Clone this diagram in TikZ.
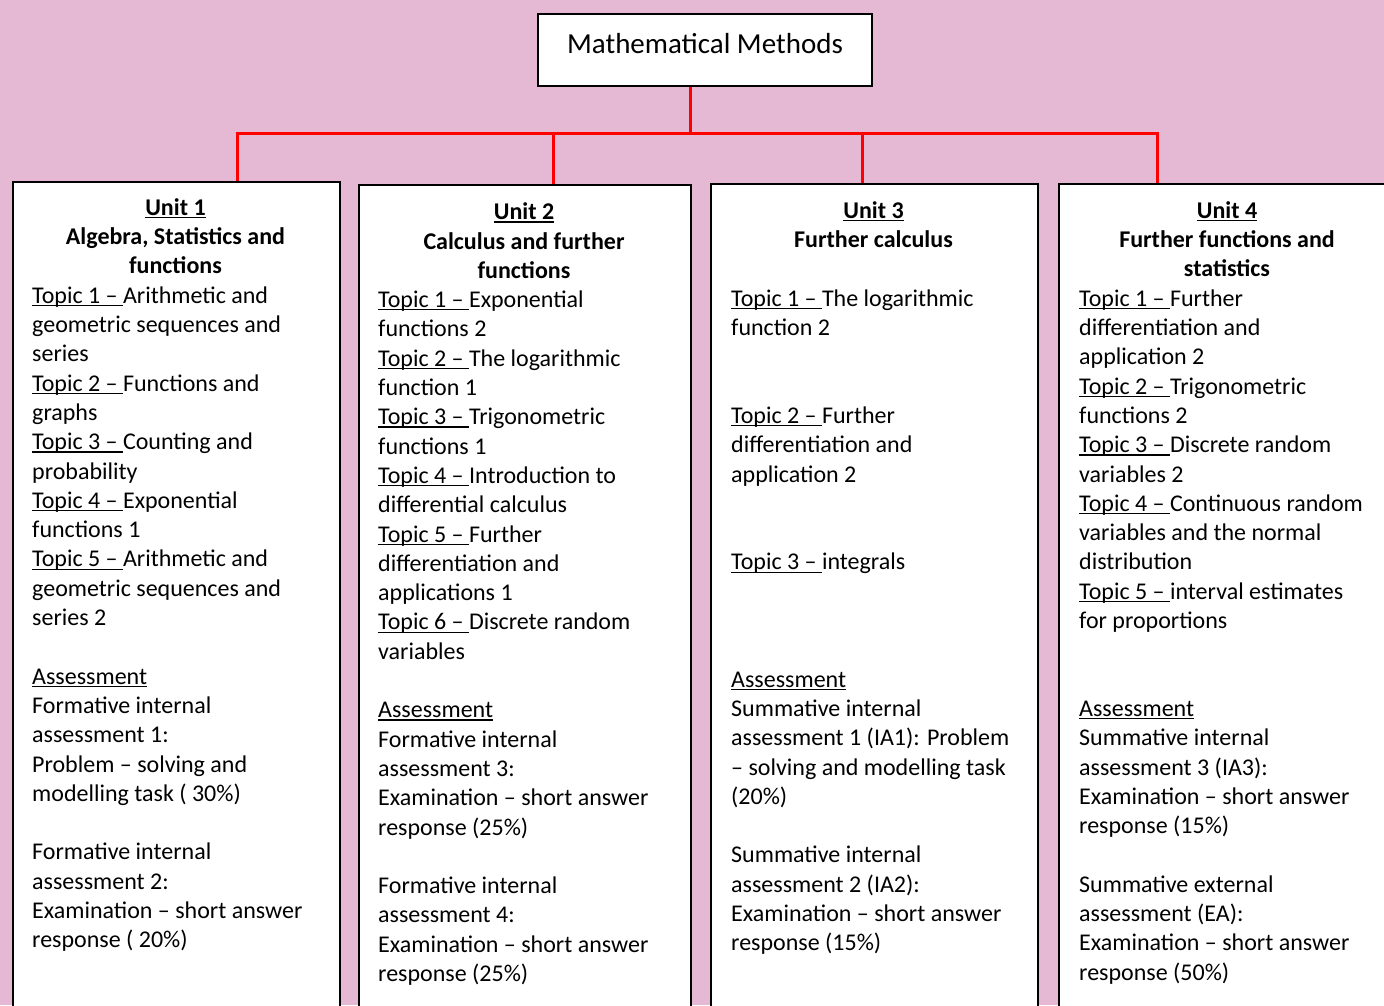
\documentclass[tikz,border=0pt]{standalone}
\usepackage{fontspec}
\setmainfont{Carlito}
\definecolor{bgpink}{RGB}{229,184,212}
\definecolor{conred}{RGB}{255,0,0}
\newlength\ulw
\newcommand\uln[1]{\settowidth\ulw{#1}\rlap{\rule[-2.8pt]{\ulw}{1.2pt}}#1}
\newcommand\bodyfont{\fontsize{24pt}{29.3pt}\selectfont}
\newcommand\st{\rule{0pt}{22pt}}
\begin{document}
\begin{tikzpicture}[x=1pt,y=-1pt]
\tikzset{
  ubox/.style={draw=black, line width=2pt, fill=white, inner sep=0pt, anchor=north west},
  hdr/.style={anchor=north, inner sep=0pt, align=center, font=\bodyfont\bfseries},
  bodytext/.style={anchor=north west, inner sep=0pt, align=left, font=\bodyfont},
  titlebox/.style={draw=black, line width=2pt, fill=white, minimum width=334pt, minimum height=72pt, inner sep=0pt, text height=20pt, text depth=14pt, font=\fontsize{29pt}{35pt}\selectfont},
  redline/.style={draw=conred, line width=3pt}
}
\useasboundingbox (0,0) rectangle (1384,1005);
\clip (0,0) rectangle (1384,1005);
\fill[bgpink] (0,0) rectangle (1384,1005);

% title
\node[titlebox] (title) at (705,50) {Mathematical Methods};

% unit boxes
\node[ubox, minimum width=327pt, minimum height=850pt] (u1) at (12,181) {};
\node[ubox, minimum width=332pt, minimum height=850pt] (u2) at (358,184) {};
\node[ubox, minimum width=327pt, minimum height=850pt] (u3) at (710,183) {};
\node[ubox, minimum width=350pt, minimum height=850pt] (u4) at (1058,183) {};

% connectors
\coordinate (bus) at (690,133);
\coordinate (d1) at (237,181);
\coordinate (d2) at (553,184);
\coordinate (d3) at (862,183);
\coordinate (d4) at (1157,183);
\draw[redline] (bus |- title.south) -- (bus);
\draw[redline] (d1) |- (bus) -| (d4);
\draw[redline] (d2) -- (d2 |- bus);
\draw[redline] (d3) -- (d3 |- bus);

% Unit 1
\node[hdr] (h1) at (175.5,193) {\st\uln{Unit 1}\\Algebra, Statistics and\\functions};
\node[bodytext] (b1) at (32,281) {\st\uln{Topic 1 – }Arithmetic and\\
geometric sequences and\\
series\\
\uln{Topic 2 – }Functions and\\
graphs\\
\uln{Topic 3 – }Counting and\\
probability\\
\uln{Topic 4 – }Exponential\\
functions 1\\
\uln{Topic 5 – }Arithmetic and\\
geometric sequences and\\
series 2\\[29.3pt]
\uln{Assessment}\\
Formative internal\\
assessment 1:\\
Problem – solving and\\
modelling task ( 30\%)\\[29.3pt]
Formative internal\\
assessment 2:\\
Examination – short answer\\
response ( 20\%)};

% Unit 2
\node[hdr] (h2) at (524,197.5) {\st\uln{Unit 2}\\Calculus and further\\functions};
\node[bodytext] (b2) at (378,285.4) {\st\uln{Topic 1 – }Exponential\\
functions 2\\
\uln{Topic 2 – }The logarithmic\\
function 1\\
\uln{Topic 3 – }Trigonometric\\
functions 1\\
\uln{Topic 4 – }Introduction to\\
differential calculus\\
\uln{Topic 5 – }Further\\
differentiation and\\
applications 1\\
\uln{Topic 6 – }Discrete random\\
variables\\[29.3pt]
\uln{Assessment}\\
Formative internal\\
assessment 3:\\
Examination – short answer\\
response (25\%)\\[29.3pt]
Formative internal\\
assessment 4:\\
Examination – short answer\\
response (25\%)};

% Unit 3
\node[hdr] (h3) at (873.5,196) {\st\uln{Unit 3}\\Further calculus};
\node[bodytext] (b3) at (731,284) {\st\uln{Topic 1 – }The logarithmic\\
function 2\\[58.6pt]
\uln{Topic 2 – }Further\\
differentiation and\\
application 2\\[58.6pt]
\uln{Topic 3 – }integrals\\[87.9pt]
\uln{Assessment}\\
Summative internal\\
assessment 1 (IA1): Problem\\
– solving and modelling task\\
(20\%)\\[29.3pt]
Summative internal\\
assessment 2 (IA2):\\
Examination – short answer\\
response (15\%)};

% Unit 4
\node[hdr] (h4) at (1227,196) {\st\uln{Unit 4}\\Further functions and\\statistics};
\node[bodytext] (b4) at (1079,284) {\st\uln{Topic 1 – }Further\\
differentiation and\\
application 2\\
\uln{Topic 2 – }Trigonometric\\
functions 2\\
\uln{Topic 3 – }Discrete random\\
variables 2\\
\uln{Topic 4 – }Continuous random\\
variables and the normal\\
distribution\\
\uln{Topic 5 – }interval estimates\\
for proportions\\[58.6pt]
\uln{Assessment}\\
Summative internal\\
assessment 3 (IA3):\\
Examination – short answer\\
response (15\%)\\[29.3pt]
Summative external\\
assessment (EA):\\
Examination – short answer\\
response (50\%)};
\end{tikzpicture}
\end{document}
